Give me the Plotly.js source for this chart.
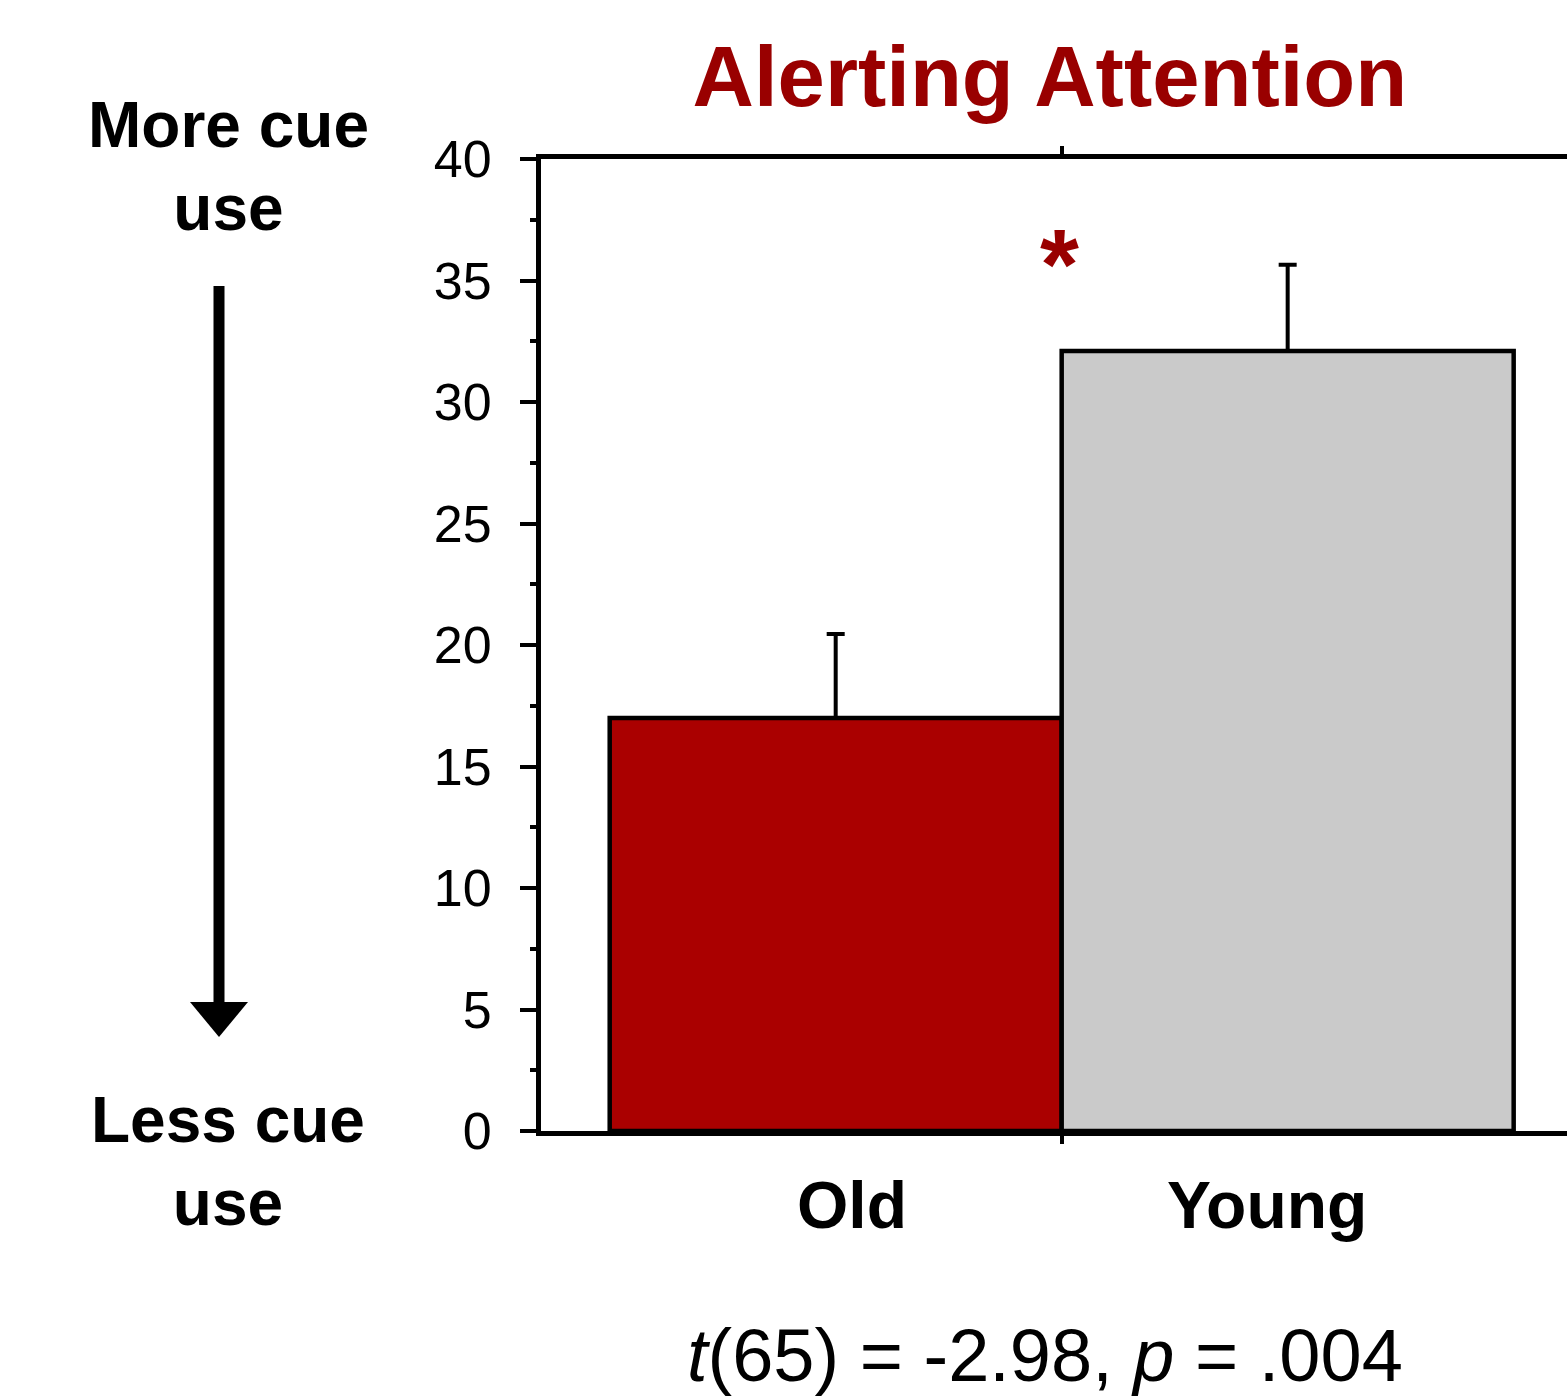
<!DOCTYPE html>
<html><head><meta charset="utf-8">
<script src="https://cdn.plot.ly/plotly-3.0.1.min.js"></script>
<style>html,body{margin:0;padding:0;background:#fff;overflow:hidden;}#chart{width:1567px;height:1396px;}</style>
</head><body><div id="chart"></div>
<script>
const groups = ['Old', 'Young'];
const means = [17.0, 32.1];
const errorsUp = [3.45, 3.55];
const errorsDown = [0, 0];
const barColors = ['#AA0000', '#CACACA'];
const yTickVals = [0, 5, 10, 15, 20, 25, 30, 35, 40];
const yTickText = ['0', '5', '10', '15', '20', '25', '30', '35', '40'];
const titleText = 'Alerting Attention';
const topLabel = 'More cue<br>use';
const bottomLabel = 'Less cue<br>use';
const statText = '<i>t</i>(65) = -2.98, <i>p</i> = .004';
const sigMark = '*';

const FONT = 'Liberation Sans, Arial, Helvetica, sans-serif';
const xIdx = groups.map((g, i) => i);
const labelShift = [16, -21];

const L = 541, T = 159, B = 1396 - 1131;
const PW = 1567 - L, PH = 1131 - T;
const px2x = px => (px - L) / PW;
const py2y = py => (1131 - py) / PH;

const trace = {
  type: 'bar',
  x: xIdx,
  y: means,
  width: 1,
  marker: { color: barColors, line: { color: '#000', width: 4.5 } },
  error_y: {
    type: 'data', symmetric: false, array: errorsUp, arrayminus: errorsDown,
    color: '#000', thickness: 4, width: 9
  },
  hoverinfo: 'none',
  showlegend: false
};

const groupLabels = groups.map((g, i) => ({
  text: '<b>' + g + '</b>', xref: 'x', yref: 'paper', x: i, y: py2y(1205),
  xshift: labelShift[i], xanchor: 'center', yanchor: 'middle', showarrow: false,
  font: { family: FONT, size: 66, color: '#000' }
}));

const layout = {
  width: 1567, height: 1396,
  margin: { l: L, r: 0, t: T, b: B, pad: 0 },
  paper_bgcolor: '#fff', plot_bgcolor: '#fff',
  font: { family: FONT, color: '#000' },
  bargap: 0,
  title: {
    text: titleText,
    font: { family: FONT, size: 85, color: '#990000', weight: 'bold' },
    x: 0.67, xanchor: 'center', xref: 'container',
    y: 1 - 76 / 1396, yanchor: 'middle', yref: 'container'
  },
  xaxis: {
    range: [-0.652, 1.618],
    tickmode: 'array', tickvals: xIdx, ticktext: ['', ''],
    ticks: '', showgrid: false, zeroline: false,
    showline: true, linecolor: '#000', linewidth: 5, mirror: 'allticks',
    minor: { tickmode: 'array', tickvals: [0.5], ticks: 'outside', ticklen: 8, tickwidth: 4, tickcolor: '#000', showgrid: false },
    fixedrange: true
  },
  yaxis: {
    range: [0, 40],
    tickmode: 'array', tickvals: yTickVals, ticktext: yTickText,
    ticks: 'outside', ticklen: 16, tickwidth: 4, tickcolor: '#000',
    showgrid: false, zeroline: false,
    showline: true, linecolor: '#000', linewidth: 5, mirror: false,
    tickfont: { family: FONT, size: 52, color: '#000' },
    ticklabelstandoff: 18,
    minor: { tickmode: 'linear', tick0: 0, dtick: 2.5, ticks: 'outside', ticklen: 6, tickwidth: 4, tickcolor: '#000', showgrid: false },
    fixedrange: true
  },
  shapes: [
    { type: 'line', xref: 'paper', yref: 'paper', x0: px2x(219), x1: px2x(219), y0: py2y(286), y1: py2y(1009),
      line: { color: '#000', width: 11 } },
    { type: 'path', xref: 'paper', yref: 'paper',
      path: 'M ' + px2x(190) + ' ' + py2y(1002) + ' L ' + px2x(248) + ' ' + py2y(1002) + ' L ' + px2x(219) + ' ' + py2y(1037) + ' Z',
      fillcolor: '#000', line: { color: '#000', width: 0 } }
  ],
  annotations: groupLabels.concat([
    { text: '<b>' + topLabel + '</b>', xref: 'paper', yref: 'paper', x: px2x(228), y: py2y(166),
      xanchor: 'center', yanchor: 'middle', showarrow: false,
      font: { family: FONT, size: 64, color: '#000' } },
    { text: '<b>' + bottomLabel + '</b>', xref: 'paper', yref: 'paper', x: px2x(228), y: py2y(1161),
      xanchor: 'center', yanchor: 'middle', showarrow: false,
      font: { family: FONT, size: 64, color: '#000' } },
    { text: statText, xref: 'paper', yref: 'paper', x: px2x(1045), y: py2y(1355),
      xanchor: 'center', yanchor: 'middle', showarrow: false,
      font: { family: FONT, size: 74, color: '#000' } },
    { text: '<b>' + sigMark + '</b>', xref: 'paper', yref: 'paper', x: px2x(1059), y: py2y(264),
      xanchor: 'center', yanchor: 'middle', showarrow: false,
      font: { family: FONT, size: 100, color: '#990000' } }
  ])
};

Plotly.newPlot('chart', [trace], layout, { staticPlot: true, displayModeBar: false });
</script>
</body></html>
